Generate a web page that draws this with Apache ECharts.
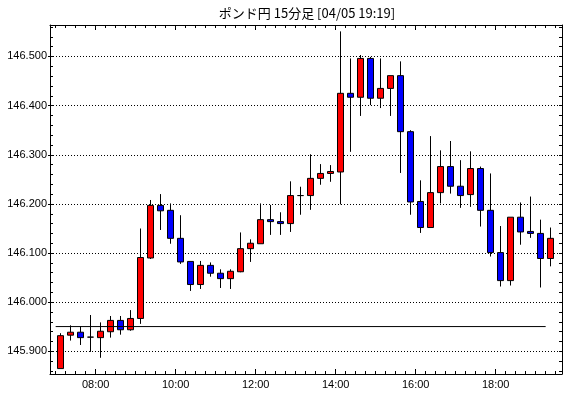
<!DOCTYPE html>
<html>
<head>
<meta charset="utf-8">
<script src="https://cdn.jsdelivr.net/npm/echarts@6/dist/echarts.min.js"></script>
<style>
  html, body { margin: 0; padding: 0; background: #fff; }
  #chart { width: 570px; height: 398px; }
</style>
</head>
<body>
<div id="chart"></div>
<script>
const titleText = 'ポンド円 15分足 [04/05 19:19]'

// 15-minute bars, start time of each bar
const times = [
  '07:00', '07:15', '07:30', '07:45', '08:00', '08:15', '08:30', '08:45',
  '09:00', '09:15', '09:30', '09:45', '10:00', '10:15', '10:30', '10:45',
  '11:00', '11:15', '11:30', '11:45', '12:00', '12:15', '12:30', '12:45',
  '13:00', '13:15', '13:30', '13:45', '14:00', '14:15', '14:30', '14:45',
  '15:00', '15:15', '15:30', '15:45', '16:00', '16:15', '16:30', '16:45',
  '17:00', '17:15', '17:30', '17:45', '18:00', '18:15', '18:30', '18:45',
  '19:00', '19:15'
]
const opens = [
  145.865, 145.933, 145.939, 145.929, 145.928, 145.940, 145.963, 145.944,
  145.967, 146.090, 146.197, 146.187, 146.130, 146.083, 146.036, 146.075,
  146.059, 146.048, 146.062, 146.109, 146.119, 146.168, 146.164, 146.160,
  146.217, 146.217, 146.252, 146.262, 146.265, 146.425, 146.417, 146.496,
  146.415, 146.435, 146.461, 146.347, 146.205, 146.152, 146.223, 146.276,
  146.236, 146.219, 146.272, 146.187, 146.101, 146.044, 146.173, 146.144,
  146.140, 146.089
]
const closes = [
  145.932, 145.939, 145.928, 145.929, 145.941, 145.963, 145.944, 145.967,
  146.091, 146.197, 146.186, 146.130, 146.082, 146.036, 146.075, 146.059,
  146.048, 146.063, 146.109, 146.120, 146.168, 146.164, 146.160, 146.217,
  146.217, 146.252, 146.262, 146.266, 146.425, 146.417, 146.496, 146.415,
  146.435, 146.461, 146.347, 146.204, 146.152, 146.223, 146.276, 146.236,
  146.217, 146.272, 146.187, 146.101, 146.044, 146.173, 146.143, 146.140,
  146.089, 146.130
]
const lows = [
  145.865, 145.922, 145.913, 145.899, 145.887, 145.928, 145.934, 145.942,
  145.956, 146.088, 146.147, 146.119, 146.078, 146.023, 146.027, 146.052,
  146.029, 146.027, 146.061, 146.082, 146.119, 146.137, 146.137, 146.143,
  146.178, 146.188, 146.239, 146.245, 146.199, 146.306, 146.379, 146.401,
  146.395, 146.379, 146.263, 146.178, 146.141, 146.152, 146.201, 146.221,
  146.192, 146.194, 146.154, 146.093, 146.032, 146.034, 146.117, 146.131,
  146.030, 146.073
]
const highs = [
  145.937, 145.953, 145.951, 145.974, 145.959, 145.972, 145.972, 145.984,
  146.150, 146.208, 146.220, 146.201, 146.177, 146.083, 146.084, 146.081,
  146.067, 146.067, 146.142, 146.128, 146.201, 146.198, 146.183, 146.246,
  146.235, 146.301, 146.281, 146.279, 146.551, 146.496, 146.503, 146.499,
  146.496, 146.461, 146.490, 146.350, 146.248, 146.338, 146.309, 146.328,
  146.289, 146.307, 146.276, 146.262, 146.155, 146.173, 146.203, 146.215,
  146.168, 146.152
]

// reference level line
const refLevel = 145.9505
const refFrom = '07:00'
const refTo = '19:15'

const priceLabels = [145.9, 146.0, 146.1, 146.2, 146.3, 146.4, 146.5]
const timeLabels = ['08:00', '10:00', '12:00', '14:00', '16:00', '18:00']

const toMin = s => {
  const [h, m] = s.split(':').map(Number)
  return h * 60 + m
}
const fmtMin = v => {
  const h = Math.floor(v / 60), m = Math.round(v % 60)
  return String(h).padStart(2, '0') + ':' + String(m).padStart(2, '0')
}

const xMin = 411.5, xMax = 1179.5
const yMin = 145.854, yMax = 146.564

// minor ticks: every 15 min / every 0.02
const minorX = []
for (let t = 420; t <= 1170; t += 15) minorX.push(t)
const majorX = timeLabels.map(toMin)
const minorY = []
for (let i = 0; i <= 35; i++) minorY.push(+(145.86 + i * 0.02).toFixed(2))

const candles = times.map((t, i) => [toMin(t) + 7.5, opens[i], closes[i], lows[i], highs[i]])

const font = '"Liberation Sans", Arial, sans-serif'
const black = '#000'

const xBase = {
  type: 'value', min: xMin, max: xMax, splitLine: { show: false }
}
const yBase = {
  type: 'value', min: yMin, max: yMax, splitLine: { show: false }
}

const chart = echarts.init(document.getElementById('chart'))
chart.setOption({
  animation: false,
  backgroundColor: '#fff',
  graphic: [{
    type: 'text',
    x: 307,
    y: 13,
    style: {
      text: titleText,
      font: '13px "Noto Sans CJK JP", sans-serif',
      fill: black,
      align: 'center',
      verticalAlign: 'middle'
    }
  }],
  grid: { left: 50, right: 8, top: 25, bottom: 24, containLabel: false, outerBoundsMode: 'none' },
  xAxis: [
    Object.assign({}, xBase, {
      position: 'bottom',
      axisLine: { lineStyle: { color: black, width: 1 } },
      axisTick: { inside: true, length: 3, customValues: minorX, lineStyle: { color: black } },
      axisLabel: { show: false }
    }),
    Object.assign({}, xBase, {
      position: 'bottom',
      axisLine: { show: false },
      axisTick: { inside: true, length: 5, customValues: majorX, lineStyle: { color: black } },
      axisLabel: {
        customValues: majorX, formatter: fmtMin, color: black,
        fontSize: 11, fontFamily: font, margin: 5
      }
    }),
    Object.assign({}, xBase, {
      position: 'top',
      axisLine: { lineStyle: { color: black, width: 1 } },
      axisTick: { inside: true, length: 3, customValues: minorX, lineStyle: { color: black } },
      axisLabel: { show: false }
    }),
    Object.assign({}, xBase, {
      position: 'top',
      axisLine: { show: false },
      axisTick: { inside: true, length: 5, customValues: majorX, lineStyle: { color: black } },
      axisLabel: { show: false }
    })
  ],
  yAxis: [
    Object.assign({}, yBase, {
      position: 'left',
      axisLine: { lineStyle: { color: black, width: 1 } },
      axisTick: { inside: false, length: 2, customValues: priceLabels, lineStyle: { color: black } },
      axisLabel: {
        customValues: priceLabels, formatter: v => v.toFixed(3), color: black,
        fontSize: 11, fontFamily: font, margin: 3
      },
      splitLine: { show: true, lineStyle: { color: black, width: 1, type: [1, 2] } }
    }),
    Object.assign({}, yBase, {
      position: 'left',
      axisLine: { show: false },
      axisTick: { inside: true, length: 3, customValues: minorY, lineStyle: { color: black } },
      axisLabel: { show: false }
    }),
    Object.assign({}, yBase, {
      position: 'right',
      axisLine: { lineStyle: { color: black, width: 1 } },
      axisTick: { inside: true, length: 3, customValues: minorY, lineStyle: { color: black } },
      axisLabel: { show: false }
    })
  ],
  series: [
    {
      type: 'candlestick',
      xAxisIndex: 0,
      yAxisIndex: 0,
      barWidth: 6,
      encode: { x: 0, y: [1, 2, 3, 4] },
      itemStyle: {
        color: '#ff0000',
        color0: '#0000ff',
        borderColor: black,
        borderColor0: black,
        borderColorDoji: black,
        borderWidth: 1
      },
      data: candles
    },
    {
      type: 'line',
      xAxisIndex: 0,
      yAxisIndex: 0,
      symbol: 'none',
      silent: true,
      lineStyle: { color: black, width: 1 },
      data: [[toMin(refFrom), refLevel], [toMin(refTo), refLevel]]
    }
  ]
})
</script>
</body>
</html>
